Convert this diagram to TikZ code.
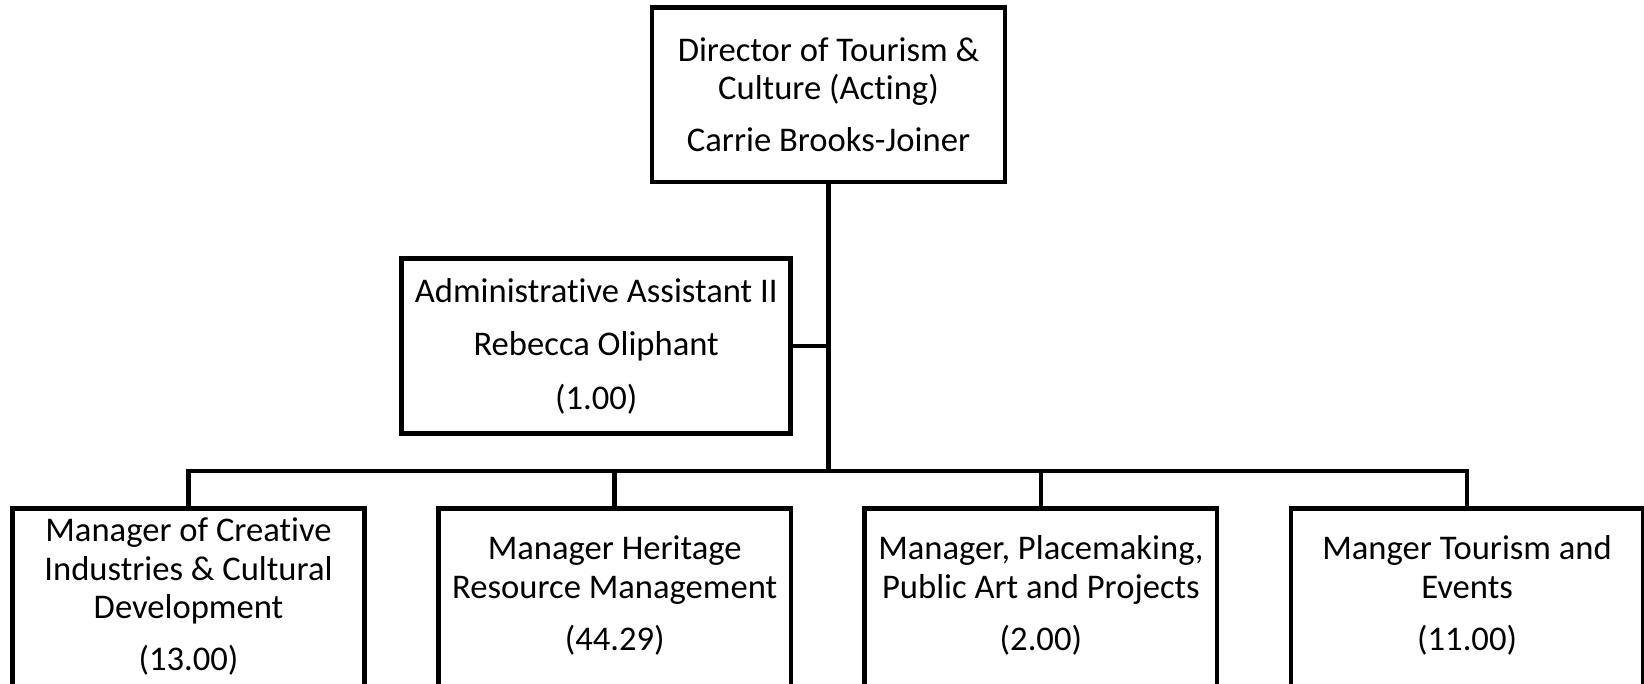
\documentclass[tikz,border=0pt]{standalone}
\usepackage{fontspec}
\setmainfont{Carlito}[Ligatures=NoCommon]
\begin{document}
\begin{tikzpicture}[x=1pt, y=-1pt,
  box/.style={draw=black, line width=4.6pt, fill=white, inner sep=0pt},
  label/.style={align=center, inner sep=0pt, font=\fontsize{34.6}{38.5}\selectfont},
  conn/.style={draw=black, line width=4.6pt}]
\useasboundingbox (0,0) rectangle (1644,683);

% director
\node[box, minimum width=353pt, minimum height=174.5pt] (top) at (828.5,94.75) {};
\node[label] (toptext) at (828.5,94.5) {Director of Tourism \&\\ Culture (Acting)\\[13pt] Carrie Brooks-Joiner};

% assistant
\node[box, minimum width=389pt, minimum height=175pt] (admin) at (596.2,345.8) {};
\node[label] (admintext) at (596.2,346) {Administrative Assistant II\\[15pt] Rebecca Oliphant\\[15pt] (1.00)};

% managers (boxes run past the lower edge)
\node[box, minimum width=352.4pt, minimum height=179.5pt] (m1) at (188.5,598.25) {};
\node[box, minimum width=352.4pt, minimum height=179.5pt] (m2) at (614.7,598.25) {};
\node[box, minimum width=352.4pt, minimum height=179.5pt] (m3) at (1040.9,598.25) {};
\node[box, minimum width=352.4pt, minimum height=179.5pt] (m4) at (1467.1,598.25) {};

\node[label] (m1text) at (188.5,596.5) {Manager of Creative\\ Industries \& Cultural\\ Development\\[13.5pt] (13.00)};
\node[label] (m2text) at (614.7,595.5) {Manager Heritage\\ Resource Management\\[13.5pt] (44.29)};
\node[label] (m3text) at (1040.9,595.5) {Manager, Placemaking,\\ Public Art and Projects\\[13.5pt] (2.00)};
\node[label] (m4text) at (1467.1,595.5) {Manger Tourism and\\ Events\\[13.5pt] (11.00)};

% connectors
\coordinate (bus) at (828.5,471);
\draw[conn] (top.south) -- (bus);
\draw[conn] (admin.east) -- (admin.east -| bus);
\draw[conn] (m1.north) |- (bus) -| (m4.north);
\draw[conn] (m2.north) -- (m2.north |- bus);
\draw[conn] (m3.north) -- (m3.north |- bus);
\end{tikzpicture}
\end{document}
